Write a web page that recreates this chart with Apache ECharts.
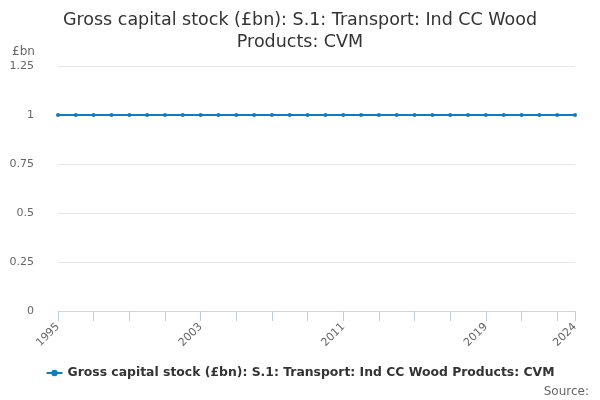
<!DOCTYPE html>
<html>
<head>
<meta charset="utf-8">
<script src="https://cdn.jsdelivr.net/npm/echarts@6/dist/echarts.min.js"></script>
<style>
  html, body { margin: 0; padding: 0; background: #fff; }
  #chart { width: 600px; height: 400px; }
</style>
</head>
<body>
<div id="chart"></div>
<script>
var years = [];
for (var y = 1995; y <= 2024; y++) years.push(String(y));
var values = [1, 1, 1, 1, 1, 1, 1, 1, 1, 1, 1, 1, 1, 1, 1,
              1, 1, 1, 1, 1, 1, 1, 1, 1, 1, 1, 1, 1, 1, 1];
var seriesName = 'Gross capital stock (£bn): S.1: Transport: Ind CC Wood Products: CVM';
var last = years.length - 1;

var chart = echarts.init(document.getElementById('chart'));
chart.setOption({
  animation: false,
  textStyle: { fontFamily: 'DejaVu Sans' },
  title: {
    text: 'Gross capital stock (£bn): S.1: Transport: Ind CC Wood\nProducts: CVM',
    left: 'center', top: 4,
    textStyle: { fontSize: 17.5, fontWeight: 'normal', color: '#333', lineHeight: 22 }
  },
  graphic: [
    { type: 'text', left: 12, top: 46, style: { text: '£bn', fontSize: 12, fill: '#666', fontFamily: 'DejaVu Sans' } },
    { type: 'text', right: 11, top: 386, style: { text: 'Source:', fontSize: 12, fill: '#666', fontFamily: 'DejaVu Sans' } }
  ],
  legend: {
    bottom: 16, left: 'center',
    itemWidth: 16, itemHeight: 8,
    textStyle: { fontSize: 12.4, fontWeight: 'bold', color: '#333' },
    data: [seriesName]
  },
  grid: { left: 58, right: 25, top: 66, bottom: 89 },
  xAxis: {
    type: 'category', data: years, boundaryGap: false,
    axisLine: { lineStyle: { color: '#ccd6eb' } },
    axisTick: { length: 10, lineStyle: { color: '#c0cce4' },
      interval: function (i) { return i % 2 === 0 || i === last; } },
    axisLabel: { rotate: 45, color: '#666', fontSize: 11, margin: 14,
      interval: function (i) { return i % 8 === 0 || i === last; } }
  },
  yAxis: {
    type: 'value', min: 0, max: 1.25, interval: 0.25,
    axisLine: { show: false }, axisTick: { show: false },
    splitLine: { lineStyle: { color: '#e6e6e6' } },
    axisLabel: { color: '#666', fontSize: 11, margin: 24,
      formatter: function (v) { return String(v); } }
  },
  series: [{
    name: seriesName, type: 'line', data: values,
    color: '#0f7cc0',
    lineStyle: { width: 2 },
    symbol: 'circle', symbolSize: 4
  }]
});
</script>
</body>
</html>
